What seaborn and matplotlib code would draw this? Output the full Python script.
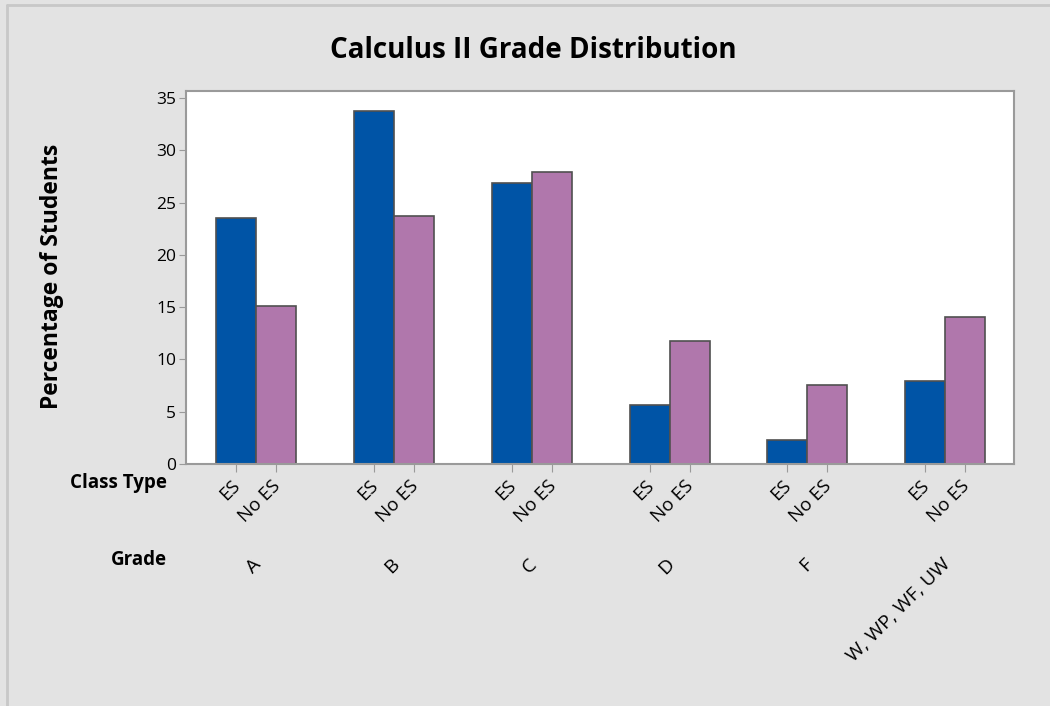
import pandas as pd
import seaborn as sns
import matplotlib.pyplot as plt
from matplotlib.lines import Line2D
from matplotlib import transforms

grades = ["A", "B", "C", "D", "F", "W, WP, WF, UW"]
class_types = ["ES", "No ES"]
es_pct = [23.5, 33.8, 26.9, 5.6, 2.3, 7.9]
no_es_pct = [15.1, 23.7, 27.9, 11.8, 7.6, 14.1]
y_ticks = [0, 5, 10, 15, 20, 25, 30, 35]
colors = ["#0054A6", "#B077AC"]

df = pd.DataFrame({
    "Grade": grades * 2,
    "Class Type": ["ES"] * len(grades) + ["No ES"] * len(grades),
    "Percent": es_pct + no_es_pct,
})

sns.set_style("white")
plt.rcParams["font.family"] = ["Open Sans", "DejaVu Sans"]
plt.rcParams["text.color"] = "black"
plt.rcParams["xtick.labelcolor"] = "black"
plt.rcParams["ytick.labelcolor"] = "black"

fig = plt.figure(figsize=(10.5, 7.06), dpi=100, facecolor="#e3e3e3")
ax = fig.add_axes([186 / 1050, 1 - 464 / 706, (1014 - 186) / 1050, (464 - 91) / 706])
ax.set_facecolor("white")

sns.barplot(data=df, x="Grade", y="Percent", hue="Class Type",
            hue_order=class_types, order=grades, palette=colors,
            saturation=1, width=0.58, edgecolor="#505050", linewidth=1.2,
            legend=False, ax=ax)

ax.set_xlim(-0.51, 5.5)
ax.set_ylim(0, 35.68)
ax.set_yticks(y_ticks)
ax.tick_params(axis="y", labelsize=12.5, labelcolor="black", length=5,
               color="#9a9a9a", direction="out", left=True, pad=2)

# class-type ticks sit under each bar
pos, labs = [], []
for cont, ct in zip(ax.containers, class_types):
    for bar in cont:
        pos.append(bar.get_x() + bar.get_width() / 2)
        labs.append(ct)
order = sorted(range(len(pos)), key=lambda i: pos[i])
ax.set_xticks([pos[i] for i in order])
ax.set_xticklabels([labs[i] for i in order], rotation=45, ha="right",
                   rotation_mode="anchor", fontsize=13.5)
ax.tick_params(axis="x", length=6, color="#9a9a9a", labelcolor="black",
               direction="out", bottom=True, pad=3)
shift = transforms.ScaledTranslation(-0.05, 0, fig.dpi_scale_trans)
for lab in ax.get_xticklabels():
    lab.set_transform(lab.get_transform() + shift)
ax.set_xlabel("")
ax.set_ylabel("")

for s in ax.spines.values():
    s.set_color("#9a9a9a")
    s.set_linewidth(1.5)

# grade row
trans = transforms.blended_transform_factory(ax.transData, fig.transFigure)
for i, g in enumerate(grades):
    ax.text(i - 0.03, 1 - 555 / 706, g, transform=trans, rotation=45,
            ha="right", va="top", rotation_mode="anchor", fontsize=14,
            clip_on=False)

fig.text(167 / 1050, 1 - 483 / 706, "Class Type", ha="right", va="center",
         fontsize=13.5, fontweight="bold")
fig.text(167 / 1050, 1 - 560 / 706, "Grade", ha="right", va="center",
         fontsize=13.5, fontweight="bold")

fig.text(533 / 1050, 1 - 51 / 706, "Calculus II Grade Distribution",
         ha="center", va="center", fontsize=20, fontweight="bold")
fig.text(52 / 1050, 1 - 276 / 706, "Percentage of Students", rotation=90,
         ha="center", va="center", fontsize=16.5, fontweight="bold")

# outer frame (top and left edges visible)
fig.add_artist(Line2D([7 / 1050, 7 / 1050], [0, 1 - 5 / 706],
                      transform=fig.transFigure, color="#c8c8c8", lw=2))
fig.add_artist(Line2D([7 / 1050, 1], [1 - 5 / 706, 1 - 5 / 706],
                      transform=fig.transFigure, color="#c8c8c8", lw=2))

fig.savefig("out.png", dpi=100, facecolor=fig.get_facecolor())
